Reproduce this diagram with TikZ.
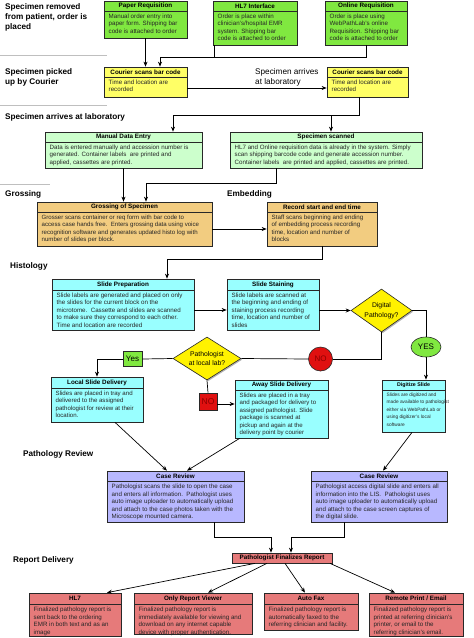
\documentclass[tikz,border=0pt]{standalone}
\usepackage{fontspec}
\setmainfont{Liberation Sans}
\usetikzlibrary{shapes.geometric,shadows,arrows.meta}
\definecolor{cgreen}{RGB}{128,232,64}
\definecolor{cyellow}{RGB}{255,255,102}
\definecolor{clgreen}{RGB}{204,255,204}
\definecolor{corange}{RGB}{242,204,128}
\definecolor{ccyan}{RGB}{153,255,255}
\definecolor{cpurple}{RGB}{184,184,255}
\definecolor{cred}{RGB}{230,122,122}
\definecolor{cdiam}{RGB}{255,242,0}
\definecolor{cyes}{RGB}{128,232,64}
\definecolor{cno}{RGB}{224,16,16}
\definecolor{cnotext}{RGB}{140,0,0}
\definecolor{cborder}{RGB}{40,40,40}
\def\bsz{6.2}\def\tsz{6.3}
\tikzset{
  boxst/.style={draw=cborder, line width=0.7pt, inner sep=0pt,
    drop shadow={shadow xshift=1.2pt,shadow yshift=-1.2pt,opacity=0.35,fill=black}},
  titlest/.style={font=\bfseries\fontsize{\tsz}{7}\selectfont, inner sep=0pt, text=black},
  bodyst/.style={font=\fontsize{\bsz}{7.5}\selectfont, inner sep=0pt, align=left, anchor=north west, text=black!85},
  lab/.style={font=\bfseries\fontsize{8.2}{10}\selectfont, align=left, anchor=north west, inner sep=0pt},
  arr/.style={-{Stealth[length=5pt,width=4pt]}, line width=0.7pt},
  ln/.style={line width=0.7pt},
  sepl/.style={draw=black!25, line width=0.6pt},
  diam/.style={diamond, draw=cborder, line width=0.6pt, fill=cdiam, inner sep=0pt, shape aspect=1.42,
    align=center, font=\fontsize{6.8}{9.5}\selectfont,
    drop shadow={shadow xshift=1.2pt,shadow yshift=-1.2pt,opacity=0.3,fill=black}},
}
\newcommand\pbox[9]{%
  \pgfmathsetmacro\pbW{#4-#2}\pgfmathsetmacro\pbH{#5-#3}%
  \node[boxst, fill=#7, minimum width=\pbW pt, minimum height=\pbH pt] (#1) at ({(#2+#4)/2},{(#3+#5)/2}) {};
  \draw[line width=0.7pt, draw=cborder] (#2,#6) -- (#4,#6);
  \node[titlest] (#1t) at ({(#2+#4)/2},{(#3+#6)/2}) {#8};
  \node[bodyst] (#1b) at ({#2+4.5},{#6+2.8}) {#9};
}
\begin{document}
\begin{tikzpicture}[x=1pt,y=-1pt]
\useasboundingbox (0,0) rectangle (474,638);

% separators and section labels
\draw[sepl] (0,55) -- (107,55);
\draw[sepl] (0,105) -- (107,105);
\draw[sepl] (0,184) -- (50,184);
\node[lab] (l1) at (5,3.2) {Specimen removed\\from patient, order is\\placed};
\node[lab] (l2) at (5,68.2) {Specimen picked\\up by Courier};
\node[lab] (l3) at (5,113.2) {Specimen arrives at laboratory};
\node[lab] (l4) at (5,190.2) {Grossing};
\node[lab] (l5) at (227,190.2) {Embedding};
\node[lab] (l6) at (10,262.2) {Histology};
\node[lab] (l7) at (23,450.2) {Pathology Review};
\node[lab] (l8) at (13,556.2) {Report Delivery};

% boxes
\pbox{paper}{104}{1}{187}{38}{11}{cgreen}{Paper Requisition}{Manual order entry into\\paper form. Shipping bar\\code is attached to order}
\pbox{hlseven}{213}{1}{297}{45}{11}{cgreen}{HL7 Interface}{Order is place within\\clinician's/hospital EMR\\system. Shipping bar\\code is attached to order}
\pbox{online}{325}{1}{407}{45}{11}{cgreen}{Online Requisition}{Order is place using\\WebPathLab's online\\Requisition. Shipping bar\\code is attached to order}
\pbox{courl}{104}{67}{187}{97}{77}{cyellow}{Courier scans bar code}{Time and location are\\recorded}
\pbox{courr}{327}{67}{408}{97}{77}{cyellow}{Courier scans bar code}{Time and location are\\recorded}
\pbox{manual}{45}{132}{202}{168}{142}{clgreen}{Manual Data Entry}{Data is entered manually and accession number is\\generated. Container labels\ \ are printed and\\applied, cassettes are printed.}
\pbox{scanned}{230}{132}{422}{168}{142}{clgreen}{Specimen scanned}{HL7 and Online requisition data is already in the system. Simply\\scan shipping barcode code and generate accession number.\\Container labels\ \ are printed and applied, cassettes are printed.}
\def\bsz{6.1}
\pbox{gross}{37}{202}{212}{246}{212}{corange}{Grossing of Specimen}{Grosser scans container or req form with bar code to\\access case hands free.\ \ Enters grossing data using voice\\recognition software and generates updated histo log with\\number of slides per block.}
\def\bsz{6.2}
\pbox{record}{267}{202}{377}{246}{212}{corange}{Record start and end time}{Staff scans beginning and ending\\of embedding process recording\\time, location and number of\\blocks}
\pbox{prep}{52}{279}{194}{330}{290}{ccyan}{Slide Preparation}{Slide labels are generated and placed on only\\the slides for the current block on the\\microtome.\ \ Cassette and slides are scanned\\to make sure they correspond to each other.\\Time and location are recorded}
\pbox{stain}{227}{279}{319}{330}{290}{ccyan}{Slide Staining}{Slide labels are scanned at\\the beginning and ending of\\staining process recording\\time, location and number of\\slides}
\def\bsz{6.1}
\pbox{local}{51}{377}{143}{422}{388}{ccyan}{Local Slide Delivery}{Slides are placed in tray and\\delivered to the assigned\\pathologist for review at their\\location.}
\pbox{away}{235}{380}{328}{438}{390}{ccyan}{Away Slide Delivery}{Slides are placed in a tray\\and packaged for delivery to\\assigned pathologist. Slide\\package is scanned at\\pickup and again at the\\delivery point by courier}
\def\bsz{4.8}\def\tsz{5.3}
\pbox{digit}{382}{380}{445}{432}{390}{ccyan}{Digitize Slide}{Slides are digitized and\\made available to pathologist\\either via WebPathLab or\\using digitizer's local\\software}
\def\bsz{6.2}\def\tsz{6.3}
\pbox{crone}{107}{471}{244}{522}{481}{cpurple}{Case Review}{Pathologist scans the slide to open the case\\and enters all information.\ \ Pathologist uses\\auto image uploader to automatically upload\\and attach to the case photos taken with the\\Microscope mounted camera.}
\pbox{crtwo}{311}{471}{447}{522}{481}{cpurple}{Case Review}{Pathologist access digital slide and enters all\\information into the LIS.\ \ Pathologist uses\\auto image uploader to automatically upload\\and attach to the case screen captures of\\the digital slide.}
\node[boxst, fill=cred, minimum width=100pt, minimum height=10pt, font=\bfseries\fontsize{6.3}{7}\selectfont] (final) at (282,558) {Pathologist Finalizes Report};
\pbox{rhl}{29}{593}{121}{636}{604}{cred}{HL7}{Finalized pathology report is\\sent back to the ordering\\EMR in both text and as an\\image}
\pbox{rview}{134}{593}{252}{634}{604}{cred}{Only Report Viewer}{Finalized pathology report is\\immediately available for viewing and\\download on any internet capable\\device with proper authentication.}
\pbox{rfax}{264}{593}{358}{630}{604}{cred}{Auto Fax}{Finalized pathology report is\\automatically faxed to the\\referring clinician and facility.}
\pbox{rprint}{369}{593}{463}{636}{604}{cred}{Remote Print / Email}{Finalized pathology report is\\printed at referring clinician's\\printer, or email to the\\referring clinician's email.}

% decisions
\node[diam, minimum width=61pt, minimum height=43pt] (dig) at (381.5,310.5) {Digital\\Pathology?};
\node[diam, minimum width=68pt, minimum height=43pt] (path) at (207,358.5) {Pathologist\\at local lab?};
\node[ellipse, draw=cborder, line width=0.6pt, fill=cyes, minimum width=30pt, minimum height=20pt, inner sep=0pt, font=\fontsize{8}{9}\selectfont] (yes) at (426,347) {YES};
\node[circle, draw=cborder, line width=0.6pt, fill=cno, minimum size=24pt, inner sep=0pt, text=cnotext, font=\fontsize{8}{9}\selectfont] (nocirc) at (320.5,359) {NO};
\node[rectangle, draw=cborder, line width=0.6pt, fill=cyes, minimum width=19pt, minimum height=15pt, inner sep=0pt, font=\fontsize{8}{9}\selectfont] (yesr) at (132.5,359) {Yes};
\node[rectangle, draw=cborder, line width=0.6pt, fill=cno, minimum width=18pt, minimum height=17pt, inner sep=0pt, text=cnotext, font=\fontsize{8.5}{9}\selectfont] (norect) at (208,401.5) {NO};

% arrival label
\node[font=\fontsize{8.2}{10}\selectfont, align=left, anchor=north west, inner sep=0pt] (arrl) at (255,68.2) {Specimen arrives\\at laboratory};

% connectors
\coordinate (j1) at (160,57);
\coordinate (j2) at (173,115);
\coordinate (j3) at (331,115);
\coordinate (j4) at (146,183);
\coordinate (j5) at (167,259);
\coordinate (j6) at (426,310.5);
\coordinate (j7) at (271,537);
\coordinate (j8) at (291,537);

\draw[arr] (paper.south) -- (paper.south |- courl.north);
\draw[ln] ([xshift=2pt]hlseven.south west) |- (j1);
\draw[ln] (online.south) |- (j1);
\draw[arr] (j1) -- (j1 |- courl.north);
\draw[arr] ([yshift=-6pt]courl.east) -- ([yshift=-6pt]courr.west);
\draw[ln] ([xshift=-8.5pt]courr.south) |- (j2);
\draw[arr] (j2) -- (j2 |- manual.north);
\draw[arr] (j3) -- (j3 |- scanned.north);
\draw[arr] (manual.south) -- (manual.south |- gross.north);
\draw[ln] ([xshift=-50pt]scanned.south) |- (j4);
\draw[arr] (j4) -- (j4 |- gross.north);
\draw[arr] ([yshift=-5pt]gross.east) -- ([yshift=-5pt]gross.east -| record.west);
\draw[ln] (record.south) |- (j5);
\draw[arr] (j5) -- (j5 |- prep.north);
\draw[arr] ([yshift=-5.5pt]prep.east) -- ([yshift=-5.5pt]prep.east -| stain.west);
\draw[arr] (stain.east |- dig.west) -- (dig.west);
\draw[ln] (dig.east) -- (j6) -- (yes.north);
\draw[arr] (yes.south) -- (yes.south |- digit.north);
\draw[ln] (dig.south) |- (nocirc.east);
\draw[ln] (nocirc.west) -- (path.east);
\draw[ln] (path.west) -- (yesr.east);
\draw[arr] (yesr.west) -| (local.north);
\draw[ln] (path.south) -- (norect.north);
\draw[arr] ([yshift=-2.5pt]norect.east) -- ([yshift=-2.5pt]norect.east -| away.west);
\draw[arr] ([xshift=18pt]local.south) -- ([xshift=-8.5pt]crone.north);
\draw[arr] ([xshift=5pt]away.south west) -- ([xshift=11.5pt]crone.north);
\draw[arr] ([xshift=-1.5pt]digit.south) -- ([xshift=4pt]crtwo.north);
\draw[ln] ([xshift=38.5pt]crone.south) |- (j7);
\draw[arr] (j7) -- (j7 |- final.north);
\draw[ln] ([xshift=-35pt]crtwo.south) |- (j8);
\draw[arr] (j8) -- (j8 |- final.north);
\draw[arr] ([xshift=-27pt]final.south) -- ([xshift=32pt]rhl.north);
\draw[arr] ([xshift=-15pt]final.south) -- ([xshift=15pt]rview.north);
\draw[arr] ([xshift=3pt]final.south) -- ([xshift=-6pt]rfax.north);
\draw[arr] ([xshift=48pt]final.south) -- ([xshift=-21pt]rprint.north);
\end{tikzpicture}
\end{document}
